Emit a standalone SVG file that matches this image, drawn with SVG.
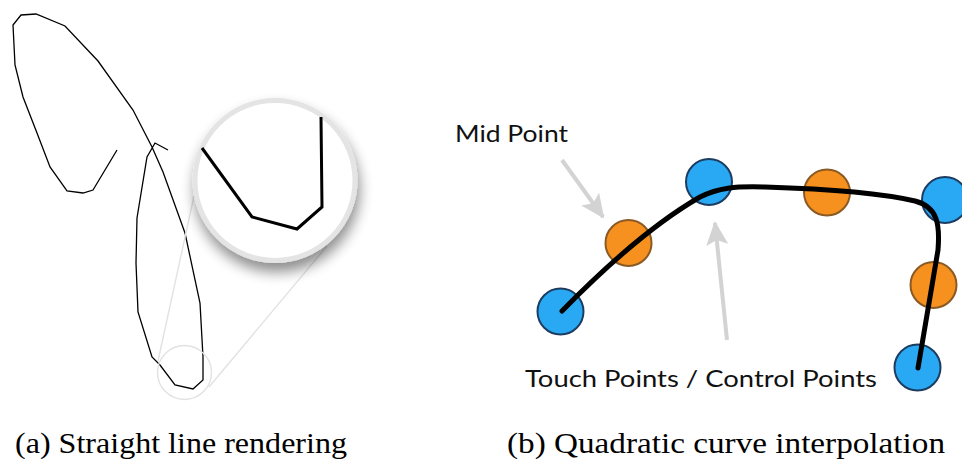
<svg xmlns="http://www.w3.org/2000/svg" width="962" height="459" viewBox="0 0 962 459">
<style>
.stroke{fill:none;stroke:#000;stroke-width:1.3;stroke-linejoin:miter}
.zoomline{fill:none;stroke:#000;stroke-width:3;stroke-linejoin:miter}
.guide{fill:none;stroke:#e2e2e2;stroke-width:1.4}
.blue{fill:#29a8f3;stroke:#1c3d60;stroke-width:2}
.orange{fill:#f6901f;stroke:#8a5a24;stroke-width:2}
.curve{fill:none;stroke:#000;stroke-width:5;stroke-linecap:round;stroke-linejoin:round}
.arrow{fill:none;stroke:#d3d3d3;stroke-width:4}
.label{font-family:Lato,"Open Sans",sans-serif;font-size:24px;fill:#111}
.caption{font-family:"Liberation Serif","DejaVu Serif",serif;font-size:29px;fill:#000}
</style>
<defs>
<marker id="head" markerUnits="userSpaceOnUse" markerWidth="24" markerHeight="22" viewBox="0 0 24 22" refX="22" refY="11" orient="auto">
<path d="M0,0 L24,11 L0,22 L5,11 z" fill="#d3d3d3"/>
</marker>
<filter id="shadow" x="-30%" y="-30%" width="160%" height="170%">
<feGaussianBlur in="SourceAlpha" stdDeviation="7"/>
<feOffset dx="2" dy="9" result="b"/>
<feComponentTransfer><feFuncA type="linear" slope="0.45"/></feComponentTransfer>
<feMerge><feMergeNode/><feMergeNode in="SourceGraphic"/></feMerge>
</filter>
</defs>

<g id="panel-a">
<polyline class="stroke" points="117,150 93,190 83,193 67,191 50,167 37,133 23,97 15,65 13,25 21,15 36,14 65,26 98,61 133,110 152,147 163,172 185,233 200,303 203,357 203,380 193,389 175,385 160,365 152,357 138,312 136,263 137,218 147,157 155,143 168,150"/>
<g id="magnifier">
<circle cx="184.5" cy="372.5" r="27" fill="none" stroke="#e2e2e2" stroke-width="1.4"/>
<line class="guide" x1="158" y1="361" x2="194" y2="196"/>
<line class="guide" x1="209" y1="387" x2="327" y2="246"/>
<circle cx="275" cy="180.5" r="80" fill="#fff" stroke="#e4e4e4" stroke-width="5" filter="url(#shadow)"/>
<polyline class="zoomline" points="202,148 252,217 297,229 322,207 321,117"/>
</g>
</g>

<g id="panel-b">
<g id="touch-1"><circle class="blue" cx="560.5" cy="311.5" r="23"/></g>
<g id="mid-1"><circle class="orange" cx="628.5" cy="243" r="23"/></g>
<g id="touch-2"><circle class="blue" cx="709" cy="182" r="23"/></g>
<g id="mid-2"><circle class="orange" cx="827" cy="192.5" r="23"/></g>
<g id="touch-3"><circle class="blue" cx="945" cy="200" r="23"/></g>
<g id="mid-3"><circle class="orange" cx="933.5" cy="285" r="23"/></g>
<g id="touch-4"><circle class="blue" cx="917.5" cy="367.5" r="23"/></g>
<g id="connectors">
<path class="curve" d="M562,311 C610,262 660,220 700,197 C718,188 735,186 765,187 C830,189 885,194 915,201 C938,207 940,225 938,250 L918,368"/>
<line class="arrow" x1="562" y1="160" x2="603" y2="217" marker-end="url(#head)"/>
<line class="arrow" x1="727" y1="340" x2="715" y2="223" marker-end="url(#head)"/>
</g>
<g id="label-mid"><text class="label" x="455" y="142" textLength="113" lengthAdjust="spacingAndGlyphs">Mid Point</text></g>
<g id="label-touch"><text class="label" x="525" y="387" textLength="352" lengthAdjust="spacingAndGlyphs">Touch Points / Control Points</text></g>
</g>

<text class="caption" x="15" y="453" textLength="332" lengthAdjust="spacingAndGlyphs">(a) Straight line rendering</text>
<text class="caption" x="507" y="453" textLength="438" lengthAdjust="spacingAndGlyphs">(b) Quadratic curve interpolation</text>
</svg>
